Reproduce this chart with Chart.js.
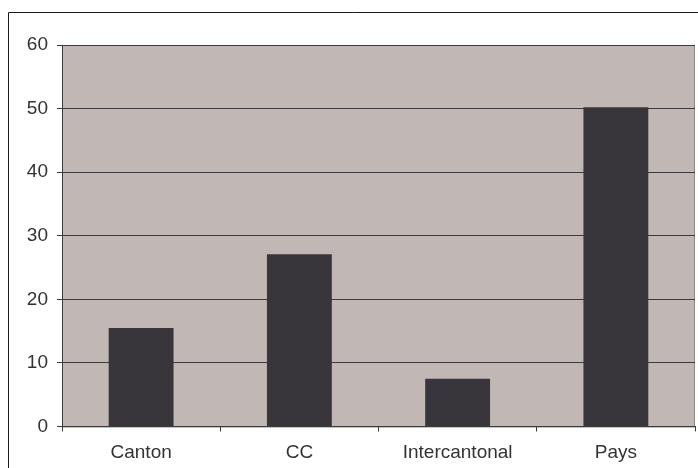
<!DOCTYPE html>
<html>
<head>
<meta charset="utf-8">
<script src="https://cdn.jsdelivr.net/npm/chart.js@4"></script>
<style>
  html, body { margin: 0; padding: 0; background: #fff; }
  #wrap { width: 698px; height: 468px; }
</style>
</head>
<body>
<div id="wrap"><canvas id="barChart" width="698" height="468"></canvas></div>
<script>
// Répartition par niveau
const categories = ['Canton', 'CC', 'Intercantonal', 'Pays'];
const values     = [15.5, 27.1, 7.5, 50.2];
const yTicks     = [0, 10, 20, 30, 40, 50, 60];

const plotBg    = '#c1b8b5';
const barColor  = '#38363b';
const gridColor = '#3c3a3c';
const textColor = '#333333';

// Plot background + outer frame
const frame = {
    id: 'frame',
    beforeDraw(chart) {
        const { ctx, chartArea: a } = chart;
        ctx.save();
        ctx.fillStyle = plotBg;
        ctx.fillRect(a.left, a.top, a.right - a.left, a.bottom - a.top);
        ctx.strokeStyle = '#8c8686';
        ctx.lineWidth = 1;
        ctx.strokeRect(a.left + 0.5, a.top + 0.5, a.right - a.left - 1, a.bottom - a.top);
        ctx.strokeStyle = '#1a1a1a';
        ctx.beginPath();
        ctx.moveTo(8.5, chart.height);
        ctx.lineTo(8.5, 12.5);
        ctx.lineTo(chart.width, 12.5);
        ctx.stroke();
        ctx.restore();
    }
};

new Chart(document.getElementById('barChart').getContext('2d'), {
    type: 'bar',
    data: {
        labels: categories,
        datasets: [{
            data: values,
            backgroundColor: barColor,
            borderWidth: 0,
            categoryPercentage: 1,
            barPercentage: 0.41
        }]
    },
    options: {
        responsive: false,
        animation: false,
        layout: { padding: { top: 45, right: 3, left: 0, bottom: 0 } },
        plugins: { legend: { display: false }, tooltip: { enabled: false } },
        scales: {
            x: {
                offset: true,
                afterFit: s => { s.height = 41.5; },
                grid: { offset: true, drawOnChartArea: false, color: gridColor, tickLength: 5 },
                border: { color: gridColor },
                ticks: { color: textColor, padding: 10, font: { family: 'Liberation Sans', size: 19 } }
            },
            y: {
                min: 0,
                max: 60,
                afterFit: s => { s.width = 62; },
                afterBuildTicks: s => { s.ticks = yTicks.map(v => ({ value: v })); },
                grid: { color: gridColor, tickLength: 5 },
                border: { color: gridColor },
                ticks: { color: textColor, padding: 9, font: { family: 'Liberation Sans', size: 19 } }
            }
        }
    },
    plugins: [frame]
});
</script>
</body>
</html>
